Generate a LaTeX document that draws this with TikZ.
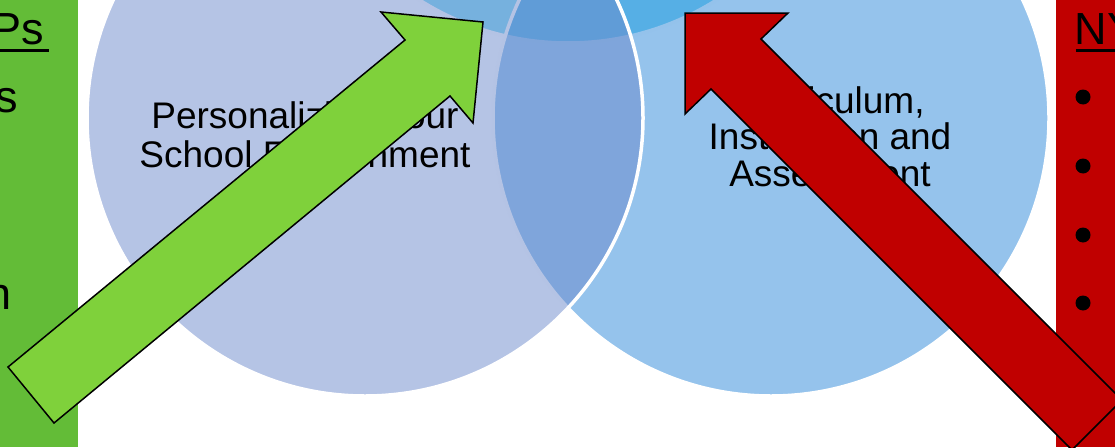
\documentclass[tikz,border=0pt]{standalone}
\usepackage{fontspec}
\setmainfont{Liberation Sans}
\usetikzlibrary{positioning}
\definecolor{painelverde}{HTML}{63BC37}
\definecolor{setaverde}{HTML}{7FD13B}
\definecolor{vermelho}{HTML}{C00000}
\definecolor{azultopo}{HTML}{07B3E3}
\definecolor{azuldir}{HTML}{2B87D9}
\definecolor{azulesq}{HTML}{6B89CB}

\begin{document}
\begin{tikzpicture}[
      x=1pt, y=-1pt,
      circulo/.style={draw=white, line width=3.5pt, fill opacity=0.5},
      rotulo/.style={align=center, inner sep=0pt, anchor=base},
      painel/.style={inner sep=0pt, anchor=base west, font=\fontsize{45}{54}\selectfont},
      sublinha/.style={line width=2.2pt},
      marcador/.style={circle, fill=black, minimum size=15pt, inner sep=0pt},
      seta_verde/.style={draw=black, line width=1.5pt, fill=setaverde},
      seta_verm/.style={draw=black, line width=1.5pt, fill=vermelho}
  ]
      \useasboundingbox (0,0) rectangle (1115,447);
      \clip (0,0) rectangle (1115,447);

      % Painéis laterais
      \fill[painelverde] (0,0) rectangle (78,447);
      \fill[vermelho] (1056,0) rectangle (1115,447);

      \node[painel] (ps) at (-8.4,44) {Ps};
      \node[painel] (ls) at (-5,112) {s};
      \node[painel] (ln) at (-14,309) {n};
      \draw[sublinha] ([yshift=-6.5pt]ps.base west) -- ([xshift=4pt,yshift=-6.5pt]ps.base east);

      \node[painel] (ny) at (1074.6,44) {NY};
      \draw[sublinha] ([xshift=1.5pt,yshift=-6.5pt]ny.base west) -- ([xshift=20pt,yshift=-6.5pt]ny.base east);
      \foreach \y [count=\i] in {97,166,235,303}
          \node[marcador] (b\i) at (1083,\y) {};

      % Círculos
      \path[circulo, fill=azultopo] (568,-235) circle[radius=278pt];
      \path[circulo, fill=azuldir] (771,118) circle[radius=278pt];
      \path[circulo, fill=azulesq] (365,118) circle[radius=278pt];

      \node[rotulo, font=\fontsize{37}{39}\selectfont] (tesq) at (305,167) {Personalizing Your\\School Environment};
      \node[rotulo, font=\fontsize{37}{36.5}\selectfont] (tdir) at (830,186) {Curriculum,\\Instruction and\\Assessment};

      % Setas
      \draw[seta_verde] (8,367) -- (405,40) -- (381,12) -- (483,22) -- (473,123) -- (450,96) -- (54,423) -- cycle;
      \draw[seta_verm] (685,13) -- (788,13) -- (761,39) -- (1122,400) -- (1072,450) -- (711,89) -- (685,114) -- cycle;

  \end{tikzpicture}
\end{document}
